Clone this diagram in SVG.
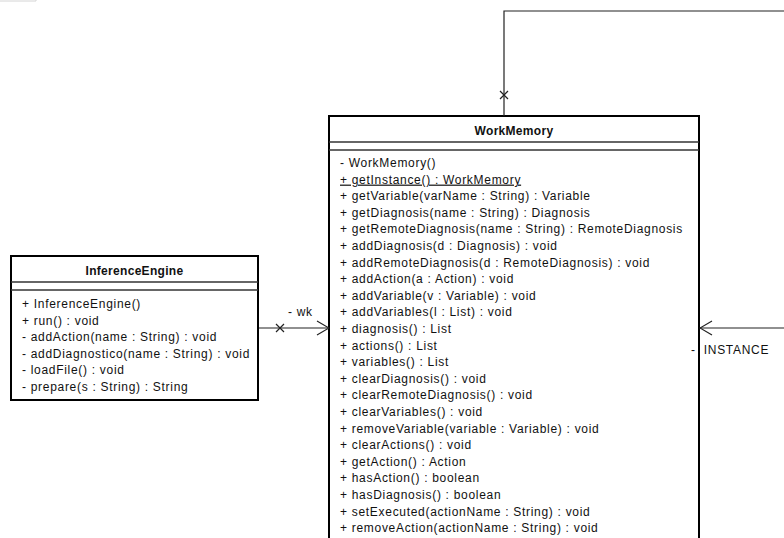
<svg xmlns="http://www.w3.org/2000/svg" width="784" height="538" viewBox="0 0 784 538">
  <style>
    .box { fill: #ffffff; stroke: #000000; stroke-width: 2; }
    .div { stroke: #333333; stroke-width: 1.5; fill: none; }
    .title { font-family: "Liberation Sans", Arial, sans-serif; font-size: 12px; font-weight: bold; fill: #111111; text-anchor: middle; letter-spacing: 0.3px; }
    .op { font-family: "Liberation Sans", Arial, sans-serif; font-size: 12px; fill: #111111; letter-spacing: 0.7px; }
    .lbl { font-family: "Liberation Sans", Arial, sans-serif; font-size: 12px; fill: #111111; letter-spacing: 0.7px; }
    .edge { stroke: #222222; stroke-width: 1.2; fill: none; }
  </style>
  <defs>
    <marker id="open" markerWidth="14" markerHeight="16" refX="13" refY="8" orient="auto" markerUnits="userSpaceOnUse">
      <path d="M1,1 L13,8 L1,15" fill="none" stroke="#222222" stroke-width="1.2"/>
    </marker>
  </defs>

  <rect width="784" height="538" fill="#ffffff"/>
  <!-- frame corner at the top left -->
  <path d="M0,1 H36 V0" fill="none" stroke="#d4d4d4" stroke-width="1"/>

  <g id="InferenceEngine">
    <rect class="box" x="11" y="256" width="247" height="144"/>
    <line class="div" x1="11" y1="282" x2="258" y2="282"/>
    <line class="div" x1="11" y1="290" x2="258" y2="290"/>
    <text class="title" x="134.5" y="275">InferenceEngine</text>
    <text class="op" x="22" y="308">+ InferenceEngine()</text>
    <text class="op" x="22" y="324.6">+ run() : void</text>
    <text class="op" x="22" y="341.2">- addAction(name : String) : void</text>
    <text class="op" x="22" y="357.8">- addDiagnostico(name : String) : void</text>
    <text class="op" x="22" y="374.4">- loadFile() : void</text>
    <text class="op" x="22" y="391">- prepare(s : String) : String</text>
  </g>

  <g id="WorkMemory">
    <rect class="box" x="329" y="116" width="370" height="450"/>
    <line class="div" x1="329" y1="142" x2="699" y2="142"/>
    <line class="div" x1="329" y1="150" x2="699" y2="150"/>
    <text class="title" x="514" y="135">WorkMemory</text>
    <text class="op" x="340" y="167">- WorkMemory()</text>
    <text class="op" x="340" y="183.6" text-decoration="underline">+ getInstance() : WorkMemory</text>
    <text class="op" x="340" y="200.2">+ getVariable(varName : String) : Variable</text>
    <text class="op" x="340" y="216.8">+ getDiagnosis(name : String) : Diagnosis</text>
    <text class="op" x="340" y="233.4">+ getRemoteDiagnosis(name : String) : RemoteDiagnosis</text>
    <text class="op" x="340" y="250">+ addDiagnosis(d : Diagnosis) : void</text>
    <text class="op" x="340" y="266.6">+ addRemoteDiagnosis(d : RemoteDiagnosis) : void</text>
    <text class="op" x="340" y="283.2">+ addAction(a : Action) : void</text>
    <text class="op" x="340" y="299.8">+ addVariable(v : Variable) : void</text>
    <text class="op" x="340" y="316.4">+ addVariables(l : List) : void</text>
    <text class="op" x="340" y="333">+ diagnosis() : List</text>
    <text class="op" x="340" y="349.6">+ actions() : List</text>
    <text class="op" x="340" y="366.2">+ variables() : List</text>
    <text class="op" x="340" y="382.8">+ clearDiagnosis() : void</text>
    <text class="op" x="340" y="399.4">+ clearRemoteDiagnosis() : void</text>
    <text class="op" x="340" y="416">+ clearVariables() : void</text>
    <text class="op" x="340" y="432.6">+ removeVariable(variable : Variable) : void</text>
    <text class="op" x="340" y="449.2">+ clearActions() : void</text>
    <text class="op" x="340" y="465.8">+ getAction() : Action</text>
    <text class="op" x="340" y="482.4">+ hasAction() : boolean</text>
    <text class="op" x="340" y="499">+ hasDiagnosis() : boolean</text>
    <text class="op" x="340" y="515.6">+ setExecuted(actionName : String) : void</text>
    <text class="op" x="340" y="532.2">+ removeAction(actionName : String) : void</text>
  </g>

  <g id="connectors">
    <!-- InferenceEngine -> WorkMemory (wk) -->
    <path class="edge" d="M259,328 H329" marker-end="url(#open)"/>
    <path class="edge" d="M276,324 L284,332 M276,332 L284,324"/>
    <text class="lbl" x="288" y="316">- wk</text>
    <!-- WorkMemory self association (INSTANCE) -->
    <path class="edge" d="M504,116 V11 H790 V328 H700" marker-end="url(#open)"/>
    <path class="edge" d="M500,91 L508,99 M500,99 L508,91"/>
    <text class="lbl" x="691" y="354">- <tspan dx="4">INSTANCE</tspan></text>
  </g>
</svg>
